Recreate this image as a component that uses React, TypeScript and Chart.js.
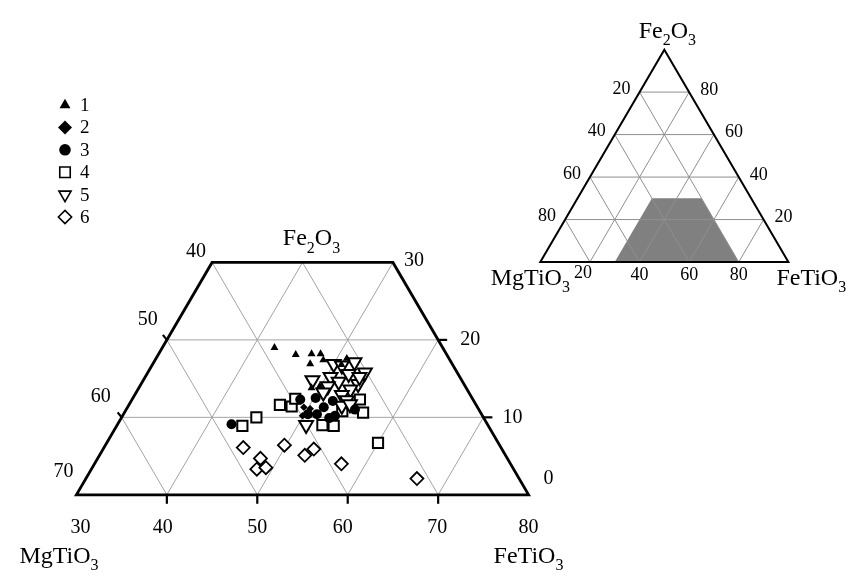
import React, { useEffect, useRef } from "react";
import { Chart, registerables } from "chart.js";
Chart.register(...registerables);

// ---------------- data ----------------
// each point: [FeTiO3 %, Fe2O3 %]   (MgTiO3 = 100 - FeTiO3 - Fe2O3)
const legendLabels = ["1", "2", "3", "4", "5", "6"];

const group1: number[][] = [
  [42.4, 19.0], [45.2, 18.1], [46.9, 18.2], [47.9, 18.2], [47.4, 16.9],
  [48.6, 17.4], [51.1, 17.6], [50.9, 16.8], [49.1, 13.8], [49.9, 14.0],
];
const group2: number[][] = [
  [49.5, 11.3], [49.9, 10.2], [50.3, 11.1],
];
const group3: number[][] = [
  [42.6, 9.1], [48.6, 12.3], [50.2, 12.5], [52.3, 12.1], [51.7, 11.3],
  [51.4, 10.4], [53.5, 10.2], [55.3, 11.0], [50.4, 10.4], [53.0, 9.9],
];
const group4: number[][] = [
  [46.7, 11.6], [48.1, 11.4], [44.9, 10.0], [43.9, 8.9], [55.2, 12.3],
  [56.4, 10.6], [60.0, 6.7], [48.0, 12.4], [52.7, 9.0], [54.0, 8.9], [54.0, 10.8],
];
const group5: number[][] = [
  [48.7, 14.8], [50.0, 16.9], [51.0, 16.7], [52.2, 17.1], [54.0, 15.8],
  [52.3, 15.6], [50.5, 15.2], [51.7, 14.6], [54.0, 14.3], [50.8, 14.0],
  [53.5, 13.6], [52.9, 12.9], [53.8, 12.2], [50.9, 9.0], [53.6, 11.5],
  [54.4, 11.7], [53.7, 15.2], [50.7, 13.2],
];
const group6: number[][] = [
  [45.4, 6.1], [48.0, 4.7], [48.3, 3.3], [49.2, 3.5], [49.8, 6.4],
  [52.7, 5.1], [53.3, 5.9], [57.3, 4.0], [66.6, 2.1],
];

// main diagram tick labels
const mainFeTiO3Ticks = [30, 40, 50, 60, 70, 80]; // bottom
const mainMgTiO3Ticks = [70, 60, 50, 40]; // left side (Fe2O3 = 0,10,20,30)
const mainFe2O3Ticks = [0, 10, 20, 30]; // right side
// inset tick labels
const insetTicks = [20, 40, 60, 80];
// region of the main diagram (shaded in inset): FeTiO3 / Fe2O3 corners
const regionFeTiO3 = [30, 80, 50, 30];
const regionFe2O3 = [0, 0, 30, 30];

// ---------------- layout ----------------
const W = 856;
const H = 583;
const S3 = Math.sqrt(3) / 2;
const SERIF = '"Liberation Serif", "Times New Roman", "DejaVu Serif", serif';
const MAIN = { ox: 68, oy: 502, unit: 9.26, x0: 30 };
const INSET = { ox: 543, oy: 261, unit: 2.54, x0: 0 };

type Comp = { fe: number; f2: number };
type Bound = { k: "fe" | "f2" | "mg"; min: number; max: number };
const compVal = (c: Comp, k: string) => (k === "fe" ? c.fe : k === "f2" ? c.f2 : 100 - c.fe - c.f2);
function linePoint(kind: string, v: number, t: number): Comp {
  if (kind === "f2") return { fe: t, f2: v };
  if (kind === "fe") return { fe: v, f2: t };
  return { fe: 100 - v - t, f2: t };
}
function clipLine(kind: string, v: number, bounds: Bound[]): [Comp, Comp] | null {
  let lo = 0;
  let hi = 100 - v;
  for (const b of bounds) {
    const p = compVal(linePoint(kind, v, 0), b.k);
    const q = compVal(linePoint(kind, v, 1), b.k) - p;
    if (Math.abs(q) < 1e-9) {
      if (p < b.min - 1e-9 || p > b.max + 1e-9) return null;
      continue;
    }
    let t1 = (b.min - p) / q;
    let t2 = (b.max - p) / q;
    if (t1 > t2) [t1, t2] = [t2, t1];
    lo = Math.max(lo, t1);
    hi = Math.min(hi, t2);
  }
  if (hi - lo < 1e-6) return null;
  return [linePoint(kind, v, lo), linePoint(kind, v, hi)];
}

function drawChem(ctx: CanvasRenderingContext2D, parts: [string, boolean][], x: number, y: number, size: number, align: "left" | "center") {
  const big = `${size}px ${SERIF}`;
  const small = `${Math.round(size * 0.66)}px ${SERIF}`;
  let total = 0;
  for (const [t, sub] of parts) {
    ctx.font = sub ? small : big;
    total += ctx.measureText(t).width;
  }
  let cx = align === "center" ? x - total / 2 : x;
  ctx.textAlign = "left";
  ctx.textBaseline = "alphabetic";
  for (const [t, sub] of parts) {
    ctx.font = sub ? small : big;
    ctx.fillText(t, cx, sub ? y + size * 0.3 : y);
    cx += ctx.measureText(t).width;
  }
}
const FE2O3: [string, boolean][] = [["Fe", false], ["2", true], ["O", false], ["3", true]];
const MGTIO3: [string, boolean][] = [["MgTiO", false], ["3", true]];
const FETIO3: [string, boolean][] = [["FeTiO", false], ["3", true]];

type Sty = { data: number[][]; shape: string; r: number; lr: number; rot: number; fill: string; bw: number; order: number };
const styles: Sty[] = [
  { data: group1, shape: "triangle", r: 4.6, lr: 6.3, rot: 0, fill: "#000", bw: 0, order: 3 },
  { data: group2, shape: "rectRot", r: 3.8, lr: 7, rot: 0, fill: "#000", bw: 0, order: 1 },
  { data: group3, shape: "circle", r: 5, lr: 5.8, rot: 0, fill: "#000", bw: 0, order: 2 },
  { data: group4, shape: "rect", r: 7.2, lr: 7.4, rot: 0, fill: "#fff", bw: 2, order: 6 },
  { data: group5, shape: "triangle", r: 8, lr: 7, rot: 180, fill: "#fff", bw: 2, order: 5 },
  { data: group6, shape: "rectRot", r: 6.5, lr: 6.6, rot: 0, fill: "#fff", bw: 1.8, order: 4 },
];

function drawMarker(ctx: CanvasRenderingContext2D, s: Sty, x: number, y: number, r: number) {
  ctx.beginPath();
  if (s.shape === "circle") ctx.arc(x, y, r, 0, Math.PI * 2);
  else if (s.shape === "rect") {
    const h = r * Math.SQRT1_2;
    ctx.rect(x - h, y - h, 2 * h, 2 * h);
  } else if (s.shape === "rectRot") {
    ctx.moveTo(x - r, y); ctx.lineTo(x, y - r); ctx.lineTo(x + r, y); ctx.lineTo(x, y + r); ctx.closePath();
  } else {
    let a = (s.rot * Math.PI) / 180;
    ctx.moveTo(x + Math.sin(a) * r, y - Math.cos(a) * r);
    a += (2 * Math.PI) / 3;
    ctx.lineTo(x + Math.sin(a) * r, y - Math.cos(a) * r);
    a += (2 * Math.PI) / 3;
    ctx.lineTo(x + Math.sin(a) * r, y - Math.cos(a) * r);
    ctx.closePath();
  }
  ctx.fillStyle = s.fill;
  ctx.fill();
  if (s.bw > 0) {
    ctx.lineWidth = 1.6;
    ctx.strokeStyle = "#000";
    ctx.stroke();
  }
}

const ternaryPlugin = {
  id: "ternary",
  beforeDatasetsDraw(chart: any) {
    const ctx: CanvasRenderingContext2D = chart.ctx;
    const mk = (xs: string, ys: string) => (c: Comp): [number, number] => [
      chart.scales[xs].getPixelForValue(c.fe + c.f2 / 2),
      chart.scales[ys].getPixelForValue(c.f2 * S3),
    ];
    const pm = mk("x", "y");
    const pi = mk("x2", "y2");
    const region: Comp[] = regionFeTiO3.map((fe, i) => ({ fe, f2: regionFe2O3[i] }));
    ctx.save();

    // ---------- inset ----------
    ctx.beginPath();
    region.forEach((c, i) => {
      const [x, y] = pi(c);
      i ? ctx.lineTo(x, y) : ctx.moveTo(x, y);
    });
    ctx.closePath();
    ctx.fillStyle = "#808080";
    ctx.fill();

    const insetBounds: Bound[] = [
      { k: "fe", min: 0, max: 100 }, { k: "f2", min: 0, max: 100 }, { k: "mg", min: 0, max: 100 },
    ];
    ctx.strokeStyle = "#8f8f8f";
    ctx.lineWidth = 1;
    for (const kind of ["fe", "f2", "mg"]) {
      for (const v of insetTicks) {
        const seg = clipLine(kind, v, insetBounds);
        if (!seg) continue;
        const [a, b] = [pi(seg[0]), pi(seg[1])];
        ctx.beginPath(); ctx.moveTo(a[0], a[1]); ctx.lineTo(b[0], b[1]); ctx.stroke();
      }
    }
    const tri: Comp[] = [{ fe: 0, f2: 0 }, { fe: 100, f2: 0 }, { fe: 0, f2: 100 }];
    ctx.beginPath();
    tri.forEach((c, i) => {
      const [x, y] = pi(c);
      i ? ctx.lineTo(x, y) : ctx.moveTo(x, y);
    });
    ctx.closePath();
    ctx.strokeStyle = "#000";
    ctx.lineWidth = 2;
    ctx.lineJoin = "miter";
    ctx.stroke();

    ctx.fillStyle = "#000";
    ctx.font = `18px ${SERIF}`;
    ctx.textAlign = "center";
    ctx.textBaseline = "middle";
    insetTicks.forEach((v) => {
      const [lx, ly] = pi({ fe: 0, f2: 100 - v });
      ctx.fillText(String(v), lx - 18, ly - 3);
      const [rx, ry] = pi({ fe: 100 - v, f2: v });
      ctx.fillText(String(v), rx + 20, ry - 2);
      const [bx, by] = pi({ fe: v, f2: 0 });
      ctx.fillText(String(v), bx - (v === 20 ? 7 : 0), by + (v === 20 ? 11 : 13));
    });
    const apex = pi({ fe: 0, f2: 100 });
    drawChem(ctx, FE2O3, apex[0] + 3, apex[1] - 12, 24, "center");
    const bl = pi({ fe: 0, f2: 0 });
    drawChem(ctx, MGTIO3, bl[0] - 10, bl[1] + 23, 24, "center");
    const br = pi({ fe: 100, f2: 0 });
    drawChem(ctx, FETIO3, br[0] - 12, br[1] + 23, 24, "left");

    // ---------- main diagram ----------
    const mainBounds: Bound[] = [
      { k: "fe", min: regionFeTiO3[0], max: 100 },
      { k: "f2", min: 0, max: regionFe2O3[2] },
      { k: "mg", min: 100 - regionFeTiO3[2] - regionFe2O3[2], max: 100 },
    ];
    ctx.strokeStyle = "#a3a3a3";
    ctx.lineWidth = 1;
    for (const kind of ["fe", "f2", "mg"]) {
      for (let v = 10; v < 100; v += 10) {
        const seg = clipLine(kind, v, mainBounds);
        if (!seg) continue;
        const [a, b] = [pm(seg[0]), pm(seg[1])];
        ctx.beginPath(); ctx.moveTo(a[0], a[1]); ctx.lineTo(b[0], b[1]); ctx.stroke();
      }
    }
    ctx.strokeStyle = "#000";
    ctx.lineWidth = 2.8;
    ctx.beginPath();
    region.forEach((c, i) => {
      const [x, y] = pm(c);
      i ? ctx.lineTo(x, y) : ctx.moveTo(x, y);
    });
    ctx.closePath();
    ctx.stroke();

    // ticks
    ctx.lineWidth = 2.2;
    mainFeTiO3Ticks.slice(1, -1).forEach((v) => {
      const [x, y] = pm({ fe: v, f2: 0 });
      ctx.beginPath(); ctx.moveTo(x, y); ctx.lineTo(x, y + 9); ctx.stroke();
    });
    mainFe2O3Ticks.slice(1, -1).forEach((v) => {
      const [x, y] = pm({ fe: 80 - v, f2: v });
      ctx.beginPath(); ctx.moveTo(x, y); ctx.lineTo(x + 9, y); ctx.stroke();
    });
    mainMgTiO3Ticks.slice(1, -1).forEach((v) => {
      const [x, y] = pm({ fe: 30, f2: 70 - v });
      ctx.beginPath(); ctx.moveTo(x, y); ctx.lineTo(x - 4, y - 5); ctx.stroke();
    });

    // tick labels
    ctx.fillStyle = "#000";
    ctx.font = `20px ${SERIF}`;
    ctx.textAlign = "center";
    ctx.textBaseline = "middle";
    const bottomOff = [4, -4, 0, -5, -1, 0];
    mainFeTiO3Ticks.forEach((v, i) => {
      const [x, y] = pm({ fe: v, f2: 0 });
      ctx.fillText(String(v), x + bottomOff[i], y + 33);
    });
    const leftOff = [[-13, -23], [-21, -21], [-19, -20], [-16, -11]];
    mainMgTiO3Ticks.forEach((v, i) => {
      const [x, y] = pm({ fe: 30, f2: 70 - v });
      ctx.fillText(String(v), x + leftOff[i][0], y + leftOff[i][1]);
    });
    const rightOff = [[20, -16], [29, 0], [32, 0], [21, -2]];
    mainFe2O3Ticks.forEach((v, i) => {
      const [x, y] = pm({ fe: 80 - v, f2: v });
      ctx.fillText(String(v), x + rightOff[i][0], y + rightOff[i][1]);
    });
    const [tlx, tly] = pm({ fe: 30, f2: 30 });
    const [trx] = pm({ fe: 50, f2: 30 });
    drawChem(ctx, FE2O3, (tlx + trx) / 2 + 9, tly - 17, 24, "center");
    const [blx, bly] = pm({ fe: 30, f2: 0 });
    drawChem(ctx, MGTIO3, blx - 57, bly + 68, 24, "left");
    const [brx] = pm({ fe: 80, f2: 0 });
    drawChem(ctx, FETIO3, brx - 35, bly + 68, 24, "left");
    ctx.restore();
  },
  afterDraw(chart: any) {
    const ctx: CanvasRenderingContext2D = chart.ctx;
    ctx.save();
    styles.forEach((s, i) => {
      const y = 105 + i * 22.4;
      drawMarker(ctx, s, 65, y, s.lr);
      ctx.fillStyle = "#000";
      ctx.font = `19px ${SERIF}`;
      ctx.textAlign = "left";
      ctx.textBaseline = "middle";
      ctx.fillText(legendLabels[i], 80, y + 1);
    });
    ctx.restore();
  },
};

export default function App() {
  const ref = useRef<HTMLCanvasElement | null>(null);
  useEffect(() => {
    document.body.style.margin = "0";
    const canvas = ref.current!;
    const datasets = styles.map((s) => ({
      type: "scatter" as const,
      data: s.data.map(([fe, f2]) => ({ x: fe + f2 / 2, y: f2 * S3 })),
      pointStyle: s.shape as any,
      pointRadius: s.r,
      pointRotation: s.rot,
      pointBackgroundColor: s.fill,
      pointBorderColor: "#000",
      pointBorderWidth: s.bw,
      showLine: false,
      order: s.order,
      xAxisID: "x",
      yAxisID: "y",
      clip: false as any,
    }));
    const chart = new Chart(canvas, {
      type: "scatter",
      data: { datasets },
      options: {
        responsive: false,
        animation: false,
        devicePixelRatio: 1,
        events: [],
        layout: { padding: 0 },
        plugins: { legend: { display: false }, tooltip: { enabled: false } },
        scales: {
          x: { type: "linear", display: false, min: MAIN.x0 - MAIN.ox / MAIN.unit, max: MAIN.x0 + (W - MAIN.ox) / MAIN.unit },
          y: { type: "linear", display: false, min: -(H - MAIN.oy) / MAIN.unit, max: MAIN.oy / MAIN.unit },
          x2: { type: "linear", axis: "x", position: "bottom", display: false, min: INSET.x0 - INSET.ox / INSET.unit, max: INSET.x0 + (W - INSET.ox) / INSET.unit },
          y2: { type: "linear", axis: "y", position: "left", display: false, min: -(H - INSET.oy) / INSET.unit, max: INSET.oy / INSET.unit },
        } as any,
      },
      plugins: [ternaryPlugin],
    });
    return () => chart.destroy();
  }, []);
  return (
    <div style={{ width: W, height: H, background: "#fff" }}>
      <canvas ref={ref} width={W} height={H} style={{ display: "block", width: W, height: H }} />
    </div>
  );
}
